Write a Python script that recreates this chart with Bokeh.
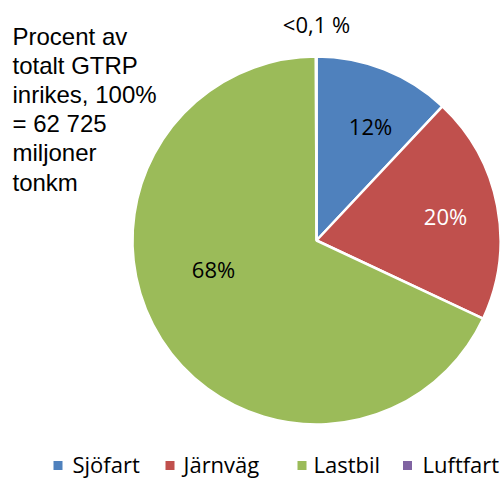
import math
from bokeh.plotting import figure
from bokeh.models import Range1d, ColumnDataSource
from bokeh.core.properties import value
from bokeh.embed import file_html
from bokeh.resources import INLINE

categories = ["Sjöfart", "Järnväg", "Lastbil", "Luftfart"]
shares = [12.0, 20.0, 68.0, 0.05]
labels = ["12%", "20%", "68%", "<0,1 %"]
colors = ["#4F81BD", "#C0504D", "#9BBB59", "#8064A2"]
label_colors = ["black", "white", "black", "black"]
title_lines = ["Procent av", "totalt GTRP", "inrikes, 100%", "= 62 725", "miljoner", "tonkm"]

W, H = 503, 478
p = figure(width=W, height=H, output_backend="svg", toolbar_location=None,
           x_range=Range1d(0, W), y_range=Range1d(0, H),
           min_border=0, outline_line_color=None)
p.axis.visible = False
p.grid.visible = False

def Y(py):
    return H - py

cx, cy, r = 316, Y(240), 184
total = sum(shares)
starts, ends = [], []
cum = 0.0
for s in shares:
    a0 = math.pi / 2 - 2 * math.pi * cum / total
    cum += s
    a1 = math.pi / 2 - 2 * math.pi * cum / total
    starts.append(a1)
    ends.append(a0)

src = ColumnDataSource(dict(start=starts, end=ends, color=colors))
p.wedge(x=cx, y=cy, radius=r, start_angle="start", end_angle="end",
        fill_color="color", line_color="white", line_width=2.5, source=src)

# percentage labels
lab_x = [370, 445, 213]
lab_y = [Y(125), Y(215), Y(268)]
p.text(x=lab_x, y=lab_y, text=labels[:3], text_color=label_colors[:3],
       text_font=value("Open Sans"), text_font_size="22px",
       text_align="center", text_baseline="middle")
p.text(x=[316], y=[Y(23)], text=[labels[3]], text_color="black",
       text_font=value("Open Sans"), text_font_size="22px",
       text_align="center", text_baseline="middle")

# title text
ty = [Y(36 + 29.1 * i) for i in range(len(title_lines))]
p.text(x=[12] * len(title_lines), y=ty, text=title_lines, text_color="black",
       text_font=value("Liberation Sans"), text_font_size="24px",
       text_align="left", text_baseline="middle")

# legend
sq_x = [57.5, 169.5, 301.5, 407]
tx = [72, 183, 313, 422]
p.rect(x=sq_x, y=[Y(465)] * 4, width=9, height=9, fill_color=colors, line_color=None)
p.text(x=tx, y=[Y(463)] * 4, text=categories, text_color="black",
       text_font=value("Open Sans"), text_font_size="22px",
       text_align="left", text_baseline="middle")

open("out.html", "w").write(file_html(p, INLINE))
